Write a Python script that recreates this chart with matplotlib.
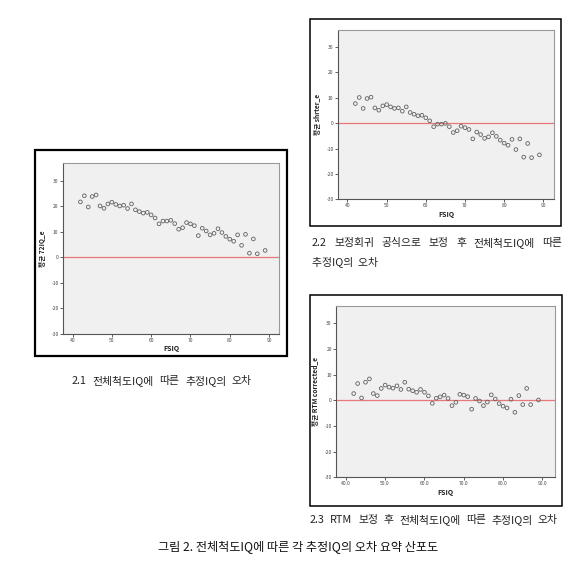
import matplotlib
matplotlib.use("Agg")
import matplotlib.pyplot as plt
from matplotlib.patches import Rectangle

plt.rcParams['font.family'] = ['Noto Sans CJK KR', 'DejaVu Sans']

fsiq = [42, 43, 44, 45, 46, 47, 48, 49, 50, 51, 52, 53, 54, 55, 56, 57, 58, 59, 60,
        61, 62, 63, 64, 65, 66, 67, 68, 69, 70, 71, 72, 73, 74, 75, 76, 77, 78, 79,
        80, 81, 82, 83, 84, 85, 86, 87, 89]

err_21 = [21.7, 24.1, 19.7, 23.8, 24.4, 20.1, 19.2, 20.9, 21.6, 20.7, 20.1, 20.4, 19.1,
          20.9, 18.6, 17.9, 17.3, 17.6, 16.6, 15.4, 13.1, 14.2, 14.2, 14.5, 13.2, 11.0,
          11.6, 13.6, 13.1, 12.4, 8.5, 11.4, 10.3, 8.8, 9.4, 11.2, 9.7, 8.2, 7.1, 6.3,
          8.8, 4.7, 9.0, 1.6, 7.2, 1.4, 2.7]

err_22 = [7.7, 10.1, 5.8, 9.7, 10.2, 6.0, 5.1, 6.8, 7.3, 6.4, 5.8, 6.0, 4.7, 6.4, 4.2,
          3.5, 2.9, 3.1, 2.1, 0.9, -1.4, -0.4, -0.4, -0.1, -1.4, -3.7, -3.0, -1.2, -1.8,
          -2.5, -6.2, -3.5, -4.5, -6.0, -5.4, -3.8, -5.2, -6.7, -7.9, -8.7, -6.4, -10.4,
          -6.2, -13.4, -8.0, -13.6, -12.5]

err_23 = [2.6, 6.5, 0.9, 7.0, 8.3, 2.6, 1.8, 4.6, 5.9, 5.1, 4.7, 5.6, 4.2, 7.0, 4.3,
          3.7, 3.1, 4.2, 3.1, 1.7, -1.2, 0.8, 1.3, 2.0, 0.7, -2.1, -0.8, 2.3, 2.0, 1.4,
          -3.5, 0.7, -0.3, -2.1, -0.7, 2.1, 0.5, -1.3, -2.3, -3.0, 0.4, -4.7, 1.8, -1.7,
          4.6, -1.7, 0.1]

y_ticks = [-30, -20, -10, 0, 10, 20, 30]
x_ticks = [40, 50, 60, 70, 80, 90]
x_labels_int = ['40', '50', '60', '70', '80', '90']
x_labels_dec = ['40.0', '50.0', '60.0', '70.0', '80.0', '90.0']

ylabels = ['평균 72IQ_e', '평균 shrter_e', '평균 RTM corrected_e']
cap_21 = '2.1 전체척도IQ에 따른 추정IQ의 오차'
cap_22a = '2.2 보정회귀 공식으로 보정 후 전체척도IQ에 따른'
cap_22b = '추정IQ의 오차'
cap_23 = '2.3 RTM 보정 후 전체척도IQ에 따른 추정IQ의 오차'
title = '그림 2. 전체척도IQ에 따른 각 추정IQ의 오차 요약 산포도'

W, H = 574, 562
fig = plt.figure(figsize=(W / 100, H / 100), dpi=100)
renderer = fig.canvas.get_renderer()


def fax(x0, y0, x1, y1):
    return [x0 / W, 1 - y1 / H, (x1 - x0) / W, (y1 - y0) / H]


def frame(x0, y0, x1, y1, lw):
    fig.patches.append(Rectangle((x0 / W, 1 - y1 / H), (x1 - x0) / W, (y1 - y0) / H,
                                 transform=fig.transFigure, fill=False,
                                 edgecolor='black', linewidth=lw, zorder=0))


def justified(text, x0, x1, y, **kw):
    words = text.split(' ')
    arts = [fig.text(0, 1 - y / H, w, va='center', ha='left', **kw) for w in words]
    widths = [a.get_window_extent(renderer).width for a in arts]
    gap = (x1 - x0 - sum(widths)) / max(len(words) - 1, 1)
    x = x0
    for a, w in zip(arts, widths):
        a.set_x(x / W)
        x += w + gap


def panel(rect, y, ylabel, xlabels, xlim):
    ax = fig.add_axes(fax(*rect))
    ax.set_facecolor('#f0f0f0')
    ax.axhline(0, color='#e87878', linewidth=0.9, zorder=1)
    ax.scatter(fsiq, y, s=7, facecolors='none', edgecolors='#606060',
               linewidths=0.6, zorder=2)
    ax.set_xlim(*xlim)
    ax.set_ylim(-30, 36.8)
    ax.set_yticks(y_ticks)
    ax.set_yticklabels([str(t) for t in y_ticks])
    ax.set_xticks(x_ticks)
    ax.set_xticklabels(xlabels)
    ax.tick_params(axis='both', length=2, width=0.6, labelsize=3.6,
                   colors='#444444', pad=1)
    for s in ['top', 'right']:
        ax.spines[s].set_color('#999999')
        ax.spines[s].set_linewidth(0.8)
    for s in ['left', 'bottom']:
        ax.spines[s].set_color('#555555')
        ax.spines[s].set_linewidth(0.8)
    ax.set_xlabel('FSIQ', fontsize=5, fontweight='bold', color='#222222', labelpad=1.5)
    ax.set_ylabel(ylabel, fontsize=4.8, fontweight='bold', color='#222222', labelpad=4)
    return ax


# frames
frame(35, 150, 287, 356, 1.6)
frame(310, 19, 561, 226, 1.1)
frame(310, 295, 562, 506, 1.1)

panel((62.7, 163.3, 279.3, 334.0), err_21, ylabels[0], x_labels_int, (37.5, 92.6))
panel((337.7, 29.7, 554.3, 199.3), err_22, ylabels[1], x_labels_int, (37.5, 92.8))
panel((336.0, 305.7, 555.0, 477.3), err_23, ylabels[2], x_labels_dec, (37.5, 93.2))

cap_kw = dict(fontsize=7.8, color='#222222')
justified(cap_21, 72, 252, 381, **cap_kw)
justified(cap_22a, 312, 562, 243, **cap_kw)
fig.text(312 / W, 1 - 262 / H, cap_22b.replace(' ', '  '), va='center', ha='left', **cap_kw)
justified(cap_23, 310, 558, 520, **cap_kw)
fig.text(158 / W, 1 - 547 / H, title, fontsize=8.75, color='#111111', va='center', ha='left')

fig.savefig('out.png', dpi=100, facecolor='white')
